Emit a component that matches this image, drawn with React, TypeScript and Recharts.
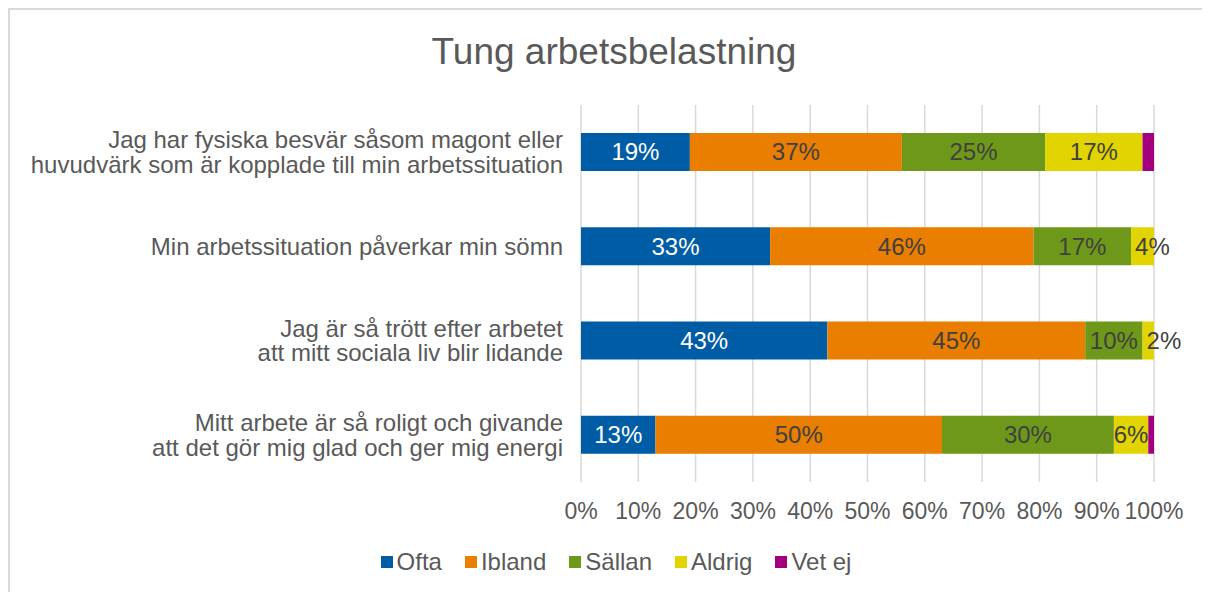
import React from "react";
import {
  BarChart,
  Bar,
  XAxis,
  YAxis,
  CartesianGrid,
  Legend,
  LabelList,
} from "recharts";

// Statements (top to bottom)
const categories = [
  "Jag har fysiska besvär såsom magont eller\nhuvudvärk som är kopplade till min arbetssituation",
  "Min arbetssituation påverkar min sömn",
  "Jag är så trött efter arbetet\natt mitt sociala liv blir lidande",
  "Mitt arbete är så roligt och givande\natt det gör mig glad och ger mig energi",
];

// Share of answers, percent
const ofta = [19, 33, 43, 13];
const ibland = [37, 46, 45, 50];
const sallan = [25, 17, 10, 30];
const aldrig = [17, 4, 2, 6];
const vetEj = [2, 0, 0, 1];

const xTicks = [0, 10, 20, 30, 40, 50, 60, 70, 80, 90, 100];

const SERIES = [
  { key: "ofta", name: "Ofta", color: "#005CA5", labelColor: "#ffffff", label: true },
  { key: "ibland", name: "Ibland", color: "#E97E00", labelColor: "#404040", label: true },
  { key: "sallan", name: "Sällan", color: "#6E9819", labelColor: "#404040", label: true },
  { key: "aldrig", name: "Aldrig", color: "#E2D400", labelColor: "#404040", label: true },
  { key: "vetEj", name: "Vet ej", color: "#A2007E", labelColor: "#404040", label: false },
];

const data = categories.map((name, i) => ({
  name,
  ofta: ofta[i],
  ibland: ibland[i],
  sallan: sallan[i],
  aldrig: aldrig[i],
  vetEj: vetEj[i],
}));

const FONT = "'Liberation Sans', Arial, sans-serif";

const CategoryTick = ({ x, y, payload }: any) => {
  const lines = String(payload.value).split("\n");
  const lh = 24.5;
  const start = y - ((lines.length - 1) * lh) / 2;
  return (
    <text x={x} y={start} textAnchor="end" fill="#595959" fontSize={24} fontFamily={FONT}>
      {lines.map((l, i) => (
        <tspan key={i} x={x} y={start + i * lh} dy="0.35em">
          {l}
        </tspan>
      ))}
    </text>
  );
};

const PercentTick = ({ x, y, payload }: any) => (
  <text x={x} y={y + 29} dy="0.35em" textAnchor="middle" fill="#595959" fontSize={23} fontFamily={FONT}>
    {`${payload.value}%`}
  </text>
);

const makeLabel = (color: string) => (props: any) => {
  const { x, y, width, height, value } = props;
  if (!value) return null;
  const narrow = width < 30;
  return (
    <text
      x={narrow ? x + 4 : x + width / 2}
      y={y + height / 2}
      dy="0.35em"
      textAnchor={narrow ? "start" : "middle"}
      fill={color}
      fontSize={24}
      fontFamily={FONT}
    >
      {`${value}%`}
    </text>
  );
};

const LegendContent = () => (
  <div
    style={{
      display: "flex",
      justifyContent: "center",
      alignItems: "center",
      height: 30,
      paddingLeft: 68,
      fontFamily: FONT,
      fontSize: 24,
      color: "#595959",
      gap: 23,
    }}
  >
    {SERIES.map((s) => (
      <div key={s.key} style={{ display: "flex", alignItems: "center" }}>
        <span style={{ width: 12, height: 12, background: s.color, marginRight: 4, display: "inline-block" }} />
        <span>{s.name}</span>
      </div>
    ))}
  </div>
);

export default function App() {
  return (
    <div
      style={{
        position: "relative",
        width: 1220,
        height: 600,
        borderLeft: "2px solid #d9d9d9",
        borderTop: "2px solid #d9d9d9",
        background: "#fff",
      }}
    >
      <div
        style={{
          position: "absolute",
          left: 4,
          top: 20,
          width: 1200,
          textAlign: "center",
          fontFamily: FONT,
          fontSize: 37,
          lineHeight: "44px",
          color: "#595959",
        }}
      >
        Tung arbetsbelastning
      </div>
      <BarChart
        width={1200}
        height={580}
        data={data}
        layout="vertical"
        margin={{ top: 95, right: 56, left: 0, bottom: 13 }}
        barSize={38}
      >
        <CartesianGrid horizontal={false} stroke="#d9d9d9" strokeWidth={1.5} />
        <XAxis
          type="number"
          domain={[0, 100]}
          ticks={xTicks}
          interval={0}
          axisLine={false}
          tickLine={false}
          tickSize={0}
          tickMargin={0}
          height={65}
          tick={<PercentTick />}
        />
        <YAxis
          type="category"
          dataKey="name"
          width={571}
          axisLine={false}
          tickLine={false}
          tickSize={0}
          tickMargin={18}
          tick={<CategoryTick />}
        />
        <Legend verticalAlign="bottom" height={30} content={<LegendContent />} />
        {SERIES.map((s) => (
          <Bar key={s.key} dataKey={s.key} name={s.name} stackId="a" fill={s.color} isAnimationActive={false}>
            {s.label && <LabelList dataKey={s.key} content={makeLabel(s.labelColor)} />}
          </Bar>
        ))}
      </BarChart>
    </div>
  );
}
